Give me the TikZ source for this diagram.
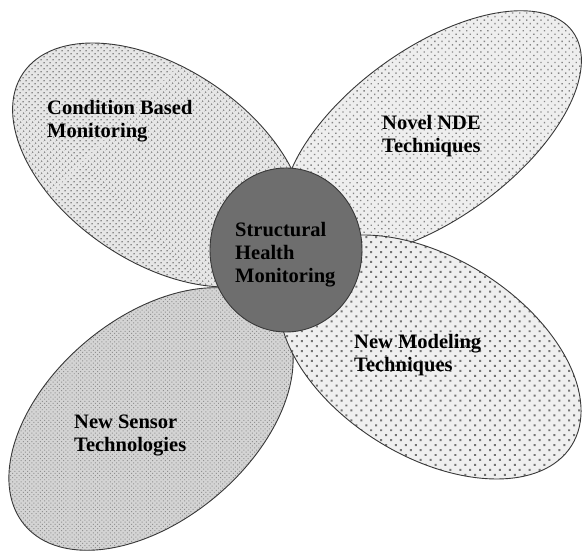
\documentclass[tikz,border=0pt]{standalone}
\usepackage{fontspec}
\setmainfont{Liberation Serif}
\usetikzlibrary{patterns.meta}

\definecolor{edge}{HTML}{383838}
\definecolor{hub}{HTML}{6E6E6E}
\definecolor{cbmbase}{HTML}{E6E6E6}
\definecolor{cbmdot}{HTML}{8C8C8C}
\definecolor{ndebase}{HTML}{EEEEEE}
\definecolor{ndedot}{HTML}{868686}
\definecolor{modbase}{HTML}{EFEFEF}
\definecolor{moddot}{HTML}{747474}
\definecolor{senbase}{HTML}{D4D4D4}
\definecolor{sendot}{HTML}{919191}

\begin{document}
\begin{tikzpicture}[x=1pt,y=1pt,
  outline/.style={draw=edge, line width=0.9pt},
  label/.style={anchor=north west, inner sep=0pt, align=left,
    font=\fontsize{20.5}{23}\selectfont\bfseries},
]
\useasboundingbox (0,0) rectangle (582,554);
\fill[white] (0,0) rectangle (582,554);

% upper right petal
\path[rotate around={36:(432,420)}, fill=ndebase,
  postaction={pattern={Dots[distance=5pt, radius=0.95pt, angle=45]}, pattern color=ndedot},
  postaction={outline}]
  (432,420) ellipse [x radius=174, y radius=85];

% upper left petal
\path[rotate around={-34:(159,389)}, fill=cbmbase,
  postaction={pattern={Dots[distance=4pt, radius=0.95pt, angle=45]}, pattern color=cbmdot},
  postaction={outline}]
  (159,389) ellipse [x radius=164, y radius=97];

% lower left petal
\path[rotate around={40:(151,135)}, fill=senbase,
  postaction={pattern={Dots[distance=3pt, radius=0.7pt, angle=45]}, pattern color=sendot},
  postaction={outline}]
  (151,135) ellipse [x radius=165, y radius=101];

% lower right petal
\path[rotate around={-32:(430,197)}, fill=modbase,
  postaction={pattern={Dots[distance=7pt, radius=1.4pt, angle=45]}, pattern color=moddot},
  postaction={outline}]
  (430,197) ellipse [x radius=167, y radius=99];

% centre
\path[fill=hub, outline] (286,304) ellipse [x radius=76, y radius=82];

% labels
\node[label] (cbm) at (47,454) {Condition Based\\Monitoring};
\node[label] (nde) at (382,439) {Novel NDE\\Techniques};
\node[label] (shm) at (235,332) {Structural\\Health\\Monitoring};
\node[label] (model) at (354,220) {New Modeling\\Techniques};
\node[label] (sensor) at (74,139) {New Sensor\\Technologies};
\end{tikzpicture}
\end{document}
